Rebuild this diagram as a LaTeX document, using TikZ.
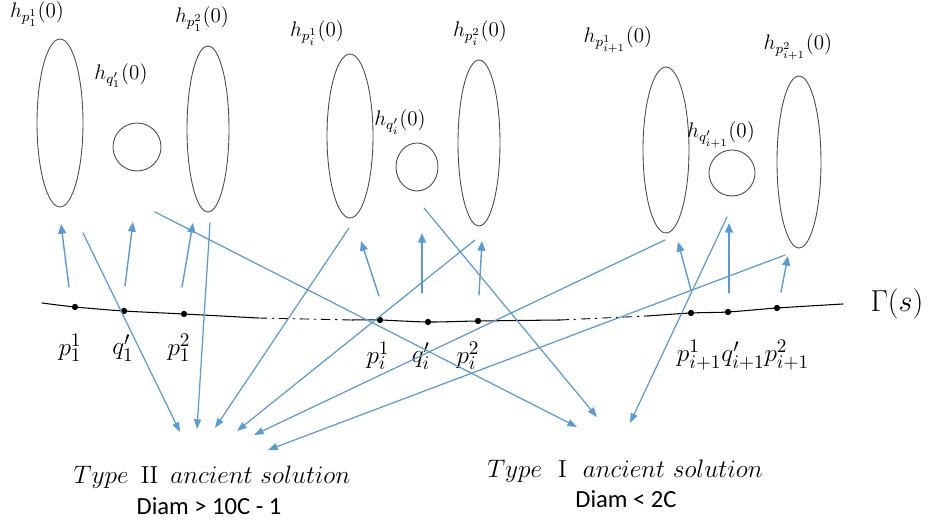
\documentclass[tikz,border=0pt]{standalone}
\usepackage{fontspec}
\newfontfamily\diamfont{Carlito}
\usetikzlibrary{arrows.meta,shapes.geometric}
\definecolor{lineblue}{RGB}{91,155,213}

\begin{document}
\begin{tikzpicture}[
  x=0.02cm,
  y=-0.02cm,
  line cap=round,
  line join=round,
  blob/.style={ellipse, draw=black!70, line width=0.5pt, inner sep=0pt},
  dot/.style={circle, fill=black, inner sep=0pt, minimum size=3.6pt},
  up/.style={lineblue, line width=0.8pt, -{Triangle[width=4.5pt,length=5.5pt]}},
  down/.style={lineblue, line width=0.7pt, -{Triangle[width=4pt,length=5.5pt]}},
  hlab/.style={font=\fontsize{12}{14}\selectfont},
  plab/.style={font=\fontsize{15}{18}\selectfont},
  tlab/.style={font=\fontsize{14}{16}\selectfont},
  dlab/.style={font=\diamfont\fontsize{14}{16}\selectfont}
]
  \useasboundingbox (0,0) rectangle (931,523);

  % Blobs h(0)
  \node[blob, minimum width=0.92cm, minimum height=3.36cm] (E11) at (60,123) {};
  \node[blob, minimum width=0.96cm, minimum height=0.96cm] (Q1)  at (137,147) {};
  \node[blob, minimum width=0.84cm, minimum height=3.32cm] (E12) at (208,129) {};
  \node[blob, minimum width=0.92cm, minimum height=3.28cm] (Ei1) at (350,136) {};
  \node[blob, minimum width=0.84cm, minimum height=0.96cm] (Qi)  at (417,167) {};
  \node[blob, minimum width=0.84cm, minimum height=3.32cm] (Ei2) at (479,143) {};
  \node[blob, minimum width=0.92cm, minimum height=3.32cm] (Ej1) at (666,150) {};
  \node[blob, minimum width=0.92cm, minimum height=0.92cm] (Qj)  at (732,173) {};
  \node[blob, minimum width=0.88cm, minimum height=3.44cm] (Ej2) at (799,162) {};

  \node[hlab] (hE11) at (37,14)  {$h_{p_1^1}(0)$};
  \node[hlab] (hQ1)  at (121,76) {$h_{q_1'}(0)$};
  \node[hlab] (hE12) at (202,19) {$h_{p_1^2}(0)$};
  \node[hlab] (hEi1) at (317,33) {$h_{p_i^1}(0)$};
  \node[hlab] (hQi)  at (400,122) {$h_{q_i'}(0)$};
  \node[hlab] (hEi2) at (480,33) {$h_{p_i^2}(0)$};
  \node[hlab] (hEj1) at (618,40) {$h_{p_{i+1}^1}(0)$};
  \node[hlab] (hQj)  at (721,135) {$h_{q_{i+1}'}(0)$};
  \node[hlab] (hEj2) at (798,47) {$h_{p_{i+1}^2}(0)$};

  % Curve Gamma(s)
  \draw[line width=0.6pt] plot[smooth] coordinates
    {(42,303) (75,307) (124,311) (184,314) (258,318)};
  \draw[line width=0.5pt, dash pattern=on 5pt off 3pt on 1pt off 3pt]
    (258,318) -- (352,320);
  \draw[line width=0.6pt] plot[smooth] coordinates
    {(352,320) (380,320) (428,322) (478,321) (560,320)};
  \draw[line width=0.5pt, dash pattern=on 5pt off 3pt on 1pt off 3pt]
    (560,320) -- (647,316);
  \draw[line width=0.6pt] plot[smooth] coordinates
    {(647,316) (691,313) (728,312) (777,308) (843,304)};

  \node[dot] (p11) at (75,307) {};
  \node[dot] (q1)  at (124,311) {};
  \node[dot] (p12) at (184,314) {};
  \node[dot] (pi1) at (380,320) {};
  \node[dot] (qi)  at (428,322) {};
  \node[dot] (pi2) at (478,321) {};
  \node[dot] (pj1) at (691,313) {};
  \node[dot] (qj)  at (728,312) {};
  \node[dot] (pj2) at (777,308) {};

  \node[font=\fontsize{18}{22}\selectfont] (gam) at (897,304) {$\Gamma(s)$};

  \node[plab] (lp11) at (70,348)  {$p_1^1$};
  \node[plab] (lq1)  at (123,348) {$q_1'$};
  \node[plab] (lp12) at (179,348) {$p_1^2$};
  \node[plab] (lpi1) at (378,356) {$p_i^1$};
  \node[plab] (lqi)  at (421,356) {$q_i'$};
  \node[plab] (lpi2) at (468,356) {$p_i^2$};
  \node[plab] (lpj)  at (743,355) {$p_{i+1}^1q_{i+1}'p_{i+1}^2$};

  % Short arrows up
  \coordinate (a1) at (69,287);  \coordinate (b1) at (61,224);
  \coordinate (a2) at (125,286); \coordinate (b2) at (133,222);
  \coordinate (a3) at (182,287); \coordinate (b3) at (193,223);
  \coordinate (a4) at (379,296); \coordinate (b4) at (361,241);
  \coordinate (a5) at (422,293); \coordinate (b5) at (422,233);
  \coordinate (a6) at (479,295); \coordinate (b6) at (482,241);
  \coordinate (a7) at (691,290); \coordinate (b7) at (678,242);
  \coordinate (a8) at (729,293); \coordinate (b8) at (729,223);
  \coordinate (a9) at (781,292); \coordinate (b9) at (788,256);
  \foreach \i in {1,...,9}
    \draw[up] (a\i) -- (b\i);

  % Long arrows down
  \coordinate (s1) at (83,233);  \coordinate (t1) at (180,432);
  \coordinate (s2) at (210,223); \coordinate (t2) at (197,429);
  \coordinate (s3) at (349,228); \coordinate (t3) at (215,428);
  \coordinate (s4) at (475,240); \coordinate (t4) at (237,431);
  \coordinate (s5) at (665,240); \coordinate (t5) at (254,435);
  \coordinate (s6) at (785,255); \coordinate (t6) at (268,450);
  \coordinate (s7) at (155,212); \coordinate (t7) at (577,427);
  \coordinate (s8) at (424,208); \coordinate (t8) at (597,417);
  \coordinate (s9) at (727,217); \coordinate (t9) at (630,423);
  \foreach \i in {1,...,9}
    \draw[down] (s\i) -- (t\i);

  % Types
  \node[tlab] (typeII) at (212,477) {$Type\ \,\mathrm{II}\,\ ancient\ solution$};
  \node[dlab] (diamII) at (209,506) {Diam > 10C - 1};
  \node[tlab] (typeI)  at (625,471) {$Type\ \ \mathrm{I}\ \ ancient\ solution$};
  \node[dlab] (diamI)  at (626,499) {Diam < 2C};
\end{tikzpicture}
\end{document}
